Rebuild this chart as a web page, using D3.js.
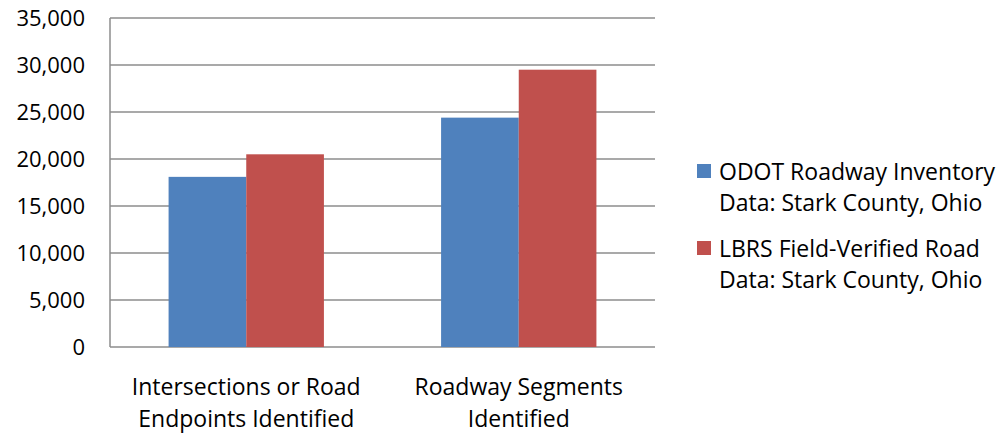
<!DOCTYPE html>
<html>
<head>
<meta charset="utf-8">
<script src="https://cdn.jsdelivr.net/npm/d3@7"></script>
<style>
  body { margin: 0; background: #fff; }
  text { font-family: "Open Sans", sans-serif; fill: #000; }
</style>
</head>
<body>
<div id="chart"></div>
<script>
const width = 1002
const height = 436
const margin = { top: 18, right: 347, bottom: 89, left: 110 }

// data
const categories = [["Intersections or Road", "Endpoints Identified"], ["Roadway Segments", "Identified"]]
const seriesNames = [
    ["ODOT Roadway Inventory", "Data: Stark County, Ohio"],
    ["LBRS Field-Verified Road", "Data: Stark County, Ohio"]
]
const odotValues = [18100, 24400]
const lbrsValues = [20500, 29500]
const yTicks = [0, 5000, 10000, 15000, 20000, 25000, 30000, 35000]
const colors = ["#4F81BD", "#C0504D"]

const innerW = width - margin.left - margin.right
const innerH = height - margin.top - margin.bottom

const svg = d3.select("div#chart").append("svg").attr("width", width).attr("height", height)

const g = svg.append("g").attr("transform", `translate(${margin.left}, ${margin.top})`)

const x = d3.scaleBand().domain(d3.range(categories.length)).range([0, innerW]).paddingInner(0.43).paddingOuter(0.215)
const xs = d3.scaleBand().domain([0, 1]).range([0, x.bandwidth()])
const y = d3.scaleLinear().domain([0, 35000]).range([innerH, 0])

// gridlines
g.selectAll("line.grid").data(yTicks).enter().append("line")
    .attr("class", "grid")
    .attr("x1", 0).attr("x2", innerW)
    .attr("y1", d => y(d)).attr("y2", d => y(d))
    .attr("stroke", "#8c8c8c").attr("stroke-width", 1.5)

// left axis line
g.append("line").attr("x1", 0).attr("x2", 0).attr("y1", 0).attr("y2", innerH)
    .attr("stroke", "#8c8c8c").attr("stroke-width", 1.5)

// y labels
const yAxis = d3.axisLeft(y).tickValues(yTicks).tickFormat(d3.format(",")).tickSize(0).tickPadding(25)
const yAxisGroup = g.append("g").call(yAxis)
yAxisGroup.select(".domain").remove()
yAxisGroup.selectAll("text").style("font-size", "22px").style("font-family", "Open Sans, sans-serif").attr("fill", "#000").attr("dy", "0.35em")

// bars
const series = [odotValues, lbrsValues]
series.forEach((vals, s) => {
    g.selectAll(`rect.s${s}`).data(vals).enter().append("rect")
        .attr("class", `s${s}`)
        .attr("x", (d, i) => x(i) + xs(s))
        .attr("y", d => y(d))
        .attr("width", xs.bandwidth())
        .attr("height", d => innerH - y(d))
        .attr("fill", colors[s])
})

// x labels
const xl = g.selectAll("text.xlab").data(categories).enter().append("text")
    .attr("class", "xlab")
    .attr("text-anchor", "middle")
    .attr("x", (d, i) => x(i) + x.bandwidth() / 2)
    .attr("y", innerH + 48)
    .style("font-size", "23px")
xl.selectAll("tspan").data(d => d).enter().append("tspan")
    .attr("x", function () { return d3.select(this.parentNode).attr("x") })
    .attr("dy", (d, i) => i === 0 ? 0 : 32)
    .text(d => d)

// legend
const legend = svg.append("g").attr("transform", "translate(697, 164)")
const item = legend.selectAll("g").data(seriesNames).enter().append("g")
    .attr("transform", (d, i) => `translate(0, ${i * 77})`)
item.append("rect").attr("width", 14).attr("height", 14).attr("fill", (d, i) => colors[i])
const lt = item.append("text").attr("x", 22).attr("y", 16).style("font-size", "23px")
lt.selectAll("tspan").data(d => d).enter().append("tspan")
    .attr("x", 22)
    .attr("dy", (d, i) => i === 0 ? 0 : 31)
    .text(d => d)
</script>
</body>
</html>
